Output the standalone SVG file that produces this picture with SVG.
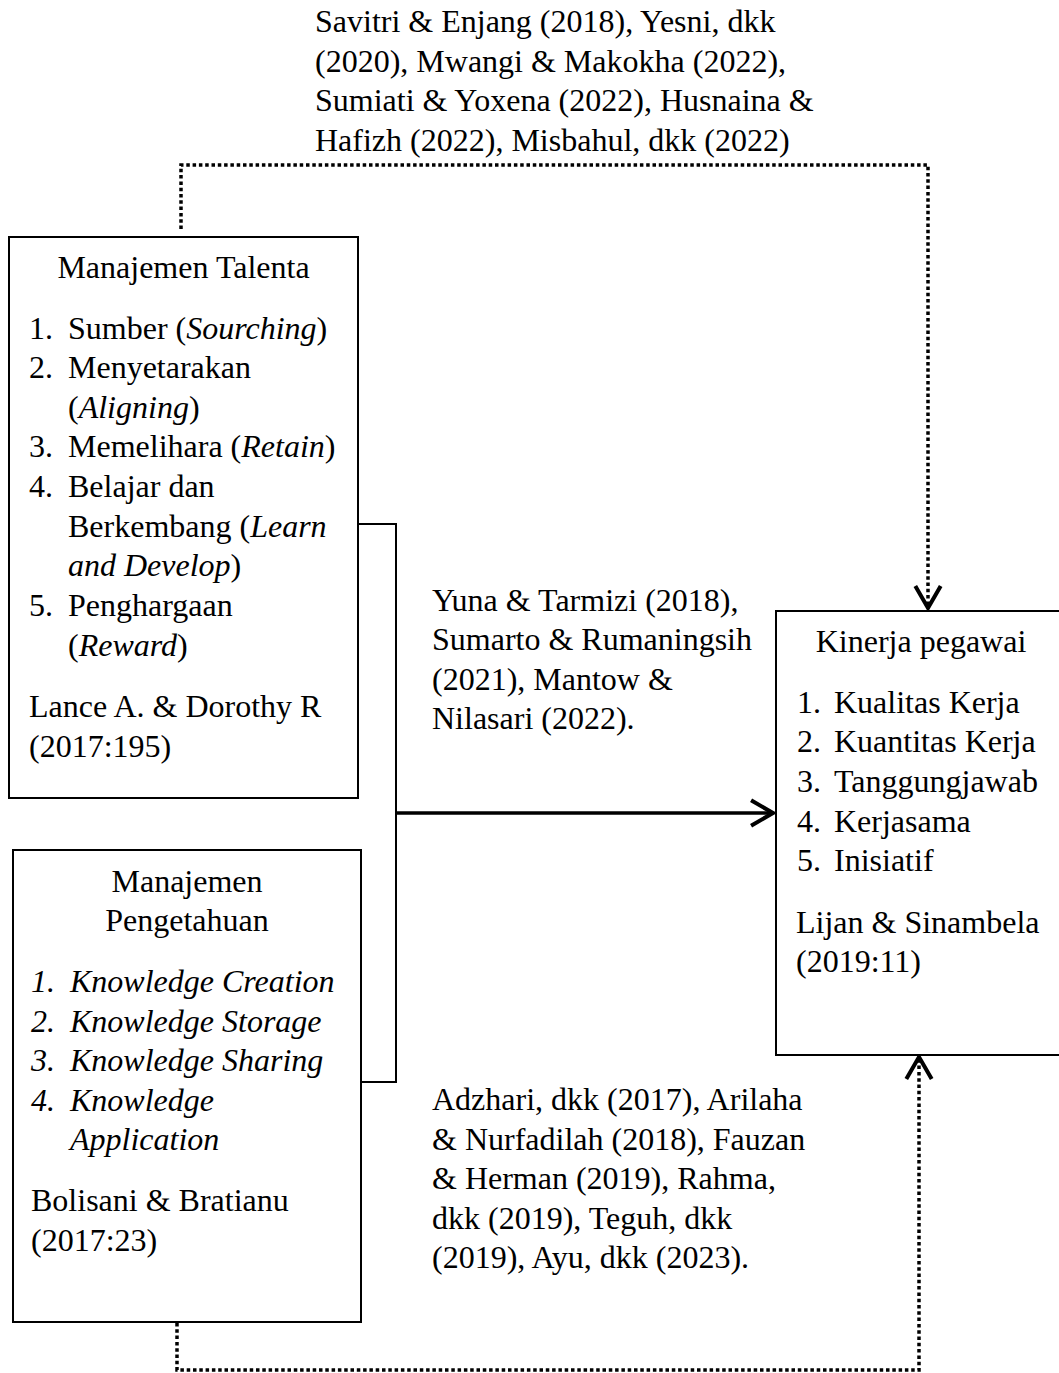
<svg xmlns="http://www.w3.org/2000/svg" width="1059" height="1373" viewBox="0 0 1059 1373">
<style>
text{font-family:"Liberation Serif","Times New Roman",serif;font-size:32px;fill:#000}
.i{font-style:italic}
.c{text-anchor:middle}
.box{fill:#fff;stroke:#000;stroke-width:2}
.dot{fill:none;stroke:#000;stroke-width:3.5;stroke-dasharray:3.5 2.8}
.solid{fill:none;stroke:#000;stroke-width:2}
.arrow{fill:none;stroke:#000;stroke-width:3.5}
</style>
<defs>
<marker id="chev" markerUnits="userSpaceOnUse" markerWidth="30" markerHeight="30" viewBox="-22 -13 26 26" refX="0" refY="0" orient="auto">
<path d="M-19,-11 L0,0 L-19,11" fill="none" stroke="#000" stroke-width="3.5"/>
</marker>
</defs>
<rect width="1059" height="1373" fill="#fff"/>
<g id="connectors">
<path class="dot" d="M181,229 V165 H928 V608" marker-end="url(#chev)"/>
<path class="dot" d="M177,1323 V1370 H919 V1057" marker-end="url(#chev)"/>
<path class="solid" d="M358,524 H396 V1082 H361"/>
<path class="arrow" d="M396,813 H773" marker-end="url(#chev)"/>
</g>
<g id="label-top">
<text x="315" y="32">Savitri &amp; Enjang (2018), Yesni, dkk</text>
<text x="315" y="72">(2020), Mwangi &amp; Makokha (2022),</text>
<text x="315" y="111">Sumiati &amp; Yoxena (2022), Husnaina &amp;</text>
<text x="315" y="151">Hafizh (2022), Misbahul, dkk (2022)</text>
</g>
<g id="node-talenta">
<rect class="box" x="9" y="237" width="349" height="561"/>
<text class="c" x="183.5" y="278">Manajemen Talenta</text>
<text x="29" y="339">1.</text><text x="68" y="339">Sumber (<tspan class="i">Sourching</tspan>)</text>
<text x="29" y="378">2.</text><text x="68" y="378">Menyetarakan</text>
<text x="68" y="418">(<tspan class="i">Aligning</tspan>)</text>
<text x="29" y="457">3.</text><text x="68" y="457">Memelihara (<tspan class="i">Retain</tspan>)</text>
<text x="29" y="497">4.</text><text x="68" y="497">Belajar dan</text>
<text x="68" y="537">Berkembang (<tspan class="i">Learn</tspan></text>
<text x="68" y="576"><tspan class="i">and Develop</tspan>)</text>
<text x="29" y="616">5.</text><text x="68" y="616">Penghargaan</text>
<text x="68" y="656">(<tspan class="i">Reward</tspan>)</text>
<text x="29" y="717">Lance A. &amp; Dorothy R</text>
<text x="29" y="757">(2017:195)</text>
</g>
<g id="node-pengetahuan">
<rect class="box" x="13" y="850" width="348" height="472"/>
<text class="c" x="187" y="892">Manajemen</text>
<text class="c" x="187" y="931">Pengetahuan</text>
<text class="i" x="31" y="992">1.</text><text class="i" x="70" y="992">Knowledge Creation</text>
<text class="i" x="31" y="1032">2.</text><text class="i" x="70" y="1032">Knowledge Storage</text>
<text class="i" x="31" y="1071">3.</text><text class="i" x="70" y="1071">Knowledge Sharing</text>
<text class="i" x="31" y="1111">4.</text><text class="i" x="70" y="1111">Knowledge</text>
<text class="i" x="70" y="1150">Application</text>
<text x="31" y="1211">Bolisani &amp; Bratianu</text>
<text x="31" y="1251">(2017:23)</text>
</g>
<g id="label-middle">
<text x="432" y="611">Yuna &amp; Tarmizi (2018),</text>
<text x="432" y="650">Sumarto &amp; Rumaningsih</text>
<text x="432" y="690">(2021), Mantow &amp;</text>
<text x="432" y="729">Nilasari (2022).</text>
</g>
<g id="node-kinerja">
<rect class="box" x="776" y="611" width="300" height="444"/>
<text class="c" x="921" y="652">Kinerja pegawai</text>
<text x="797" y="713">1.</text><text x="834" y="713">Kualitas Kerja</text>
<text x="797" y="752">2.</text><text x="834" y="752">Kuantitas Kerja</text>
<text x="797" y="792">3.</text><text x="834" y="792">Tanggungjawab</text>
<text x="797" y="832">4.</text><text x="834" y="832">Kerjasama</text>
<text x="797" y="871">5.</text><text x="834" y="871">Inisiatif</text>
<text x="796" y="933">Lijan &amp; Sinambela</text>
<text x="796" y="972">(2019:11)</text>
</g>
<g id="label-bottom">
<text x="432" y="1110">Adzhari, dkk (2017), Arilaha</text>
<text x="432" y="1150">&amp; Nurfadilah (2018), Fauzan</text>
<text x="432" y="1189">&amp; Herman (2019), Rahma,</text>
<text x="432" y="1229">dkk (2019), Teguh, dkk</text>
<text x="432" y="1268">(2019), Ayu, dkk (2023).</text>
</g>
</svg>
